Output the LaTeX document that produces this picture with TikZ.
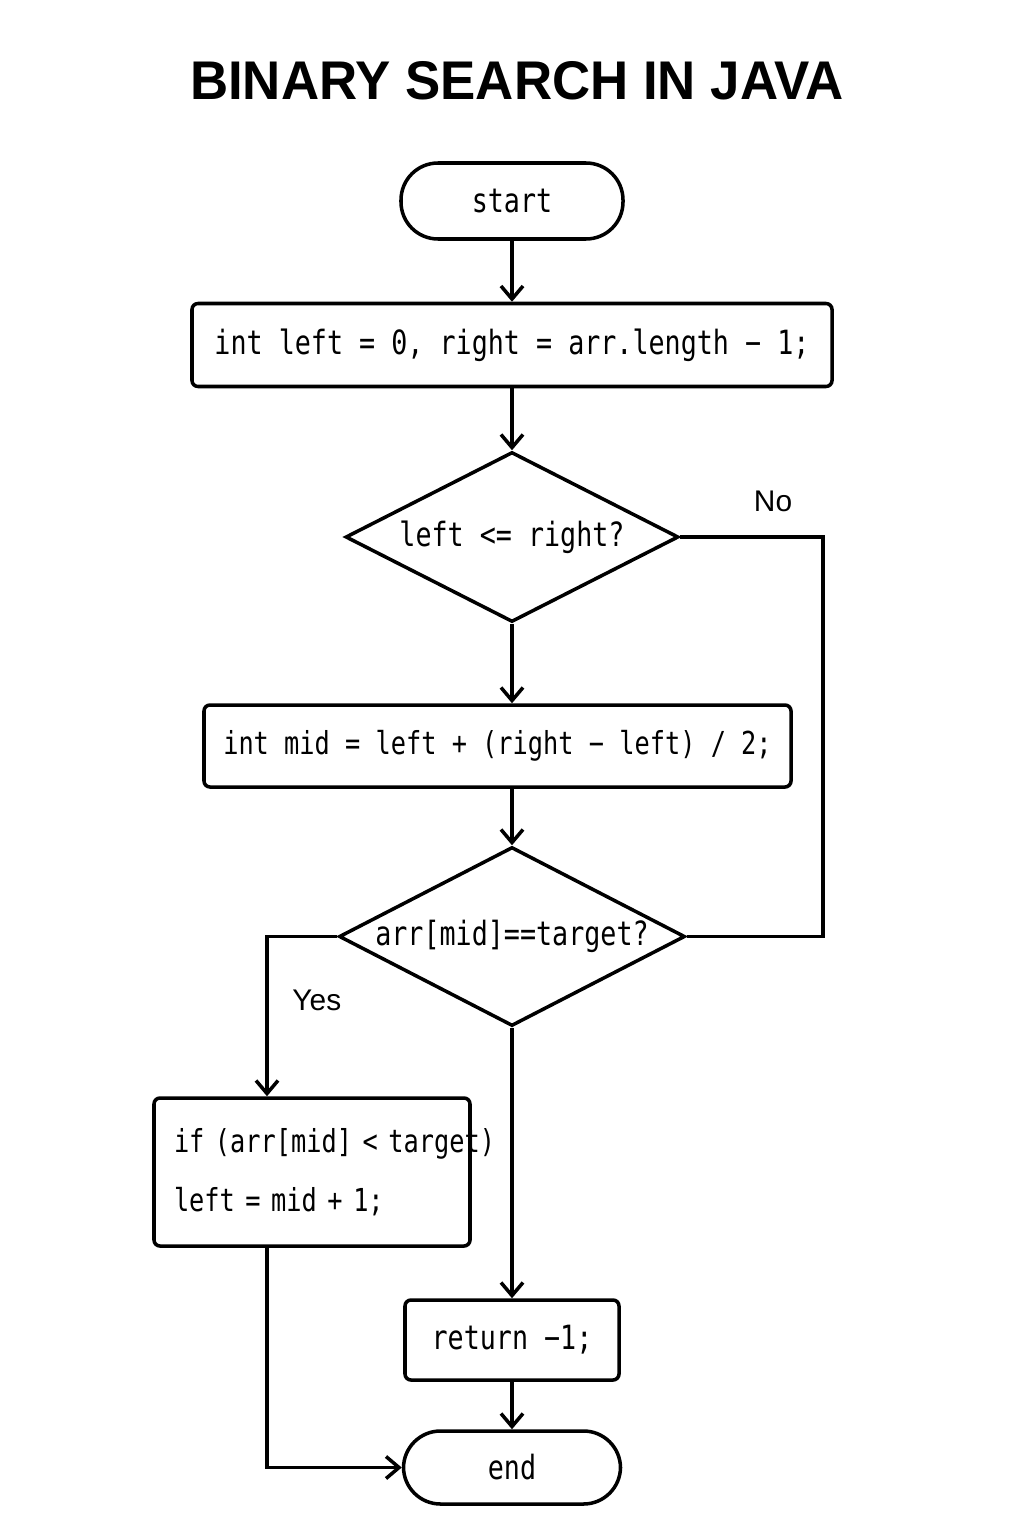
\documentclass[tikz,border=0pt]{standalone}
\usepackage{fontspec}
\usetikzlibrary{shapes.geometric,arrows.meta}
\newfontfamily\codefont[FakeStretch=0.8]{DejaVu Sans Mono}
\newfontfamily\titlefont[FakeStretch=0.97]{Liberation Sans}
\newfontfamily\labelfont{Liberation Sans}

\begin{document}
\begin{tikzpicture}[>={Straight Barb[length=1.3mm,width=2.2mm]}, line width=1pt,
		terminal/.style={draw, rectangle, rounded corners=0.37cm, inner sep=0pt,
			font=\codefont\fontsize{9.5}{12}\selectfont},
		process/.style={draw, rectangle, rounded corners=0.6mm, inner sep=0pt,
			font=\codefont\fontsize{9.5}{12}\selectfont},
		decision/.style={draw, diamond, aspect=2, inner sep=0pt,
			font=\codefont\fontsize{9.5}{12}\selectfont},
		branch/.style={font=\labelfont\fontsize{8.5}{10}\selectfont}]
		\useasboundingbox (0, 0) rectangle (10.24, -15.36);
		\node[font=\titlefont\bfseries\fontsize{15.5}{18}\selectfont] (title) at (5.17, -0.81) {BINARY SEARCH IN JAVA};
		\node[terminal, minimum width=2.22cm, minimum height=0.76cm] (start) at (5.12, -2.01) {start};
		\node[process, minimum width=6.40cm, minimum height=0.83cm] (init) at (5.12, -3.45) {int left = 0, right = arr.length − 1;};
		\node[decision, minimum width=3.33cm, minimum height=1.70cm] (test) at (5.12, -5.37) {left <= right?};
		\node[process, minimum width=5.87cm, minimum height=0.82cm,
			font=\codefont\fontsize{9}{12}\selectfont] (midcalc) at (4.975, -7.46) {int mid = left + (right − left) / 2;};
		\node[decision, minimum width=3.46cm, minimum height=1.79cm] (check) at (5.12, -9.365) {arr[mid]==target?};
		\node[process, minimum width=3.16cm, minimum height=1.48cm, text width=2.76cm, align=left,
			font=\codefont\fontsize{9}{16.8}\selectfont] (ifbox) at (3.12, -11.72)
			{\mbox{if (arr[mid] < target)}\\left = mid + 1;};
		\node[process, minimum width=2.14cm, minimum height=0.80cm] (ret) at (5.12, -13.40) {return −1;};
		\node[terminal, minimum width=2.17cm, minimum height=0.73cm] (stop) at (5.12, -14.675) {end};
		\coordinate (nocorner) at (8.23, -5.37);
		\coordinate (yescorner) at (2.67, -9.365);
		\draw[->] (start) -- (init);
		\draw[->] (init) -- (test);
		\draw[->] (test.south) -- (test.south |- midcalc.north);
		\draw[->] (midcalc.south -| check.north) -- (check);
		\draw (test.east) -- node[branch, above=0.12cm, pos=0.65] {No} (nocorner) |- (check.east);
		\draw[->] (check.west) -- (yescorner) -- node[branch, right=0.12cm, pos=0.4] {Yes} (yescorner |- ifbox.north);
		\draw[->] (check) -- (ret);
		\draw[->] (yescorner |- ifbox.south) |- (stop.west);
		\draw[->] (ret) -- (stop);
	\end{tikzpicture}
\end{document}
